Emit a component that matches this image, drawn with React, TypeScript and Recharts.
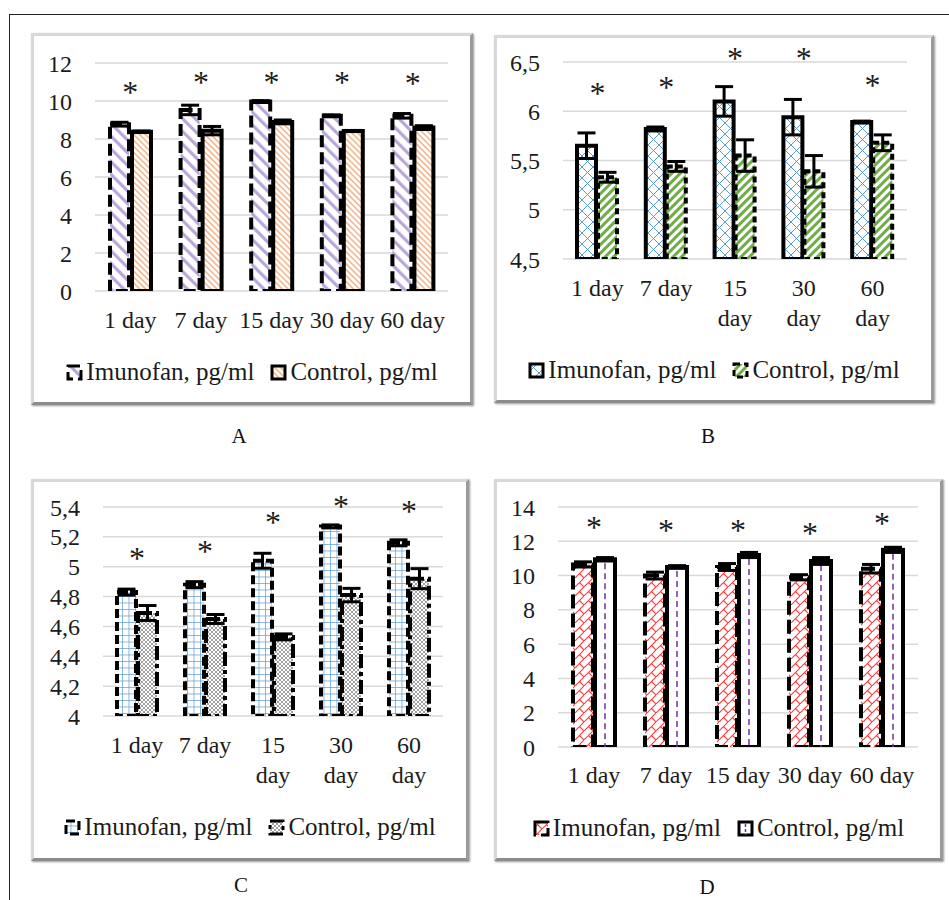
import { BarChart, Bar, XAxis, YAxis, CartesianGrid, ErrorBar, ReferenceDot } from 'recharts';

const DAYS = ['1 day', '7 day', '15 day', '30 day', '60 day'];

// panel A
const A_IMUNOFAN = [8.78, 9.53, 9.97, 9.22, 9.22];
const A_IMUNOFAN_ERR = [0.1, 0.25, 0.05, 0.05, 0.12];
const A_CONTROL = [8.38, 8.44, 8.9, 8.42, 8.6];
const A_CONTROL_ERR = [0.04, 0.22, 0.1, 0.03, 0.1];
const A_STARS = [10.75, 11.25, 11.25, 11.25, 11.2];
const A_TICKS = [0, 2, 4, 6, 8, 10, 12];

// panel B
const B_IMUNOFAN = [5.65, 5.82, 6.1, 5.94, 5.89];
const B_IMUNOFAN_ERR = [0.13, 0.02, 0.15, 0.18, 0.01];
const B_CONTROL = [5.33, 5.44, 5.55, 5.39, 5.68];
const B_CONTROL_ERR = [0.05, 0.05, 0.16, 0.16, 0.08];
const B_STARS = [6.24, 6.3, 6.59, 6.59, 6.32];
const B_TICKS = [4.5, 5, 5.5, 6, 6.5];

// panel C
const C_IMUNOFAN = [4.83, 4.88, 5.04, 5.27, 5.16];
const C_IMUNOFAN_ERR = [0.02, 0.02, 0.05, 0.01, 0.02];
const C_CONTROL = [4.69, 4.65, 4.53, 4.81, 4.92];
const C_CONTROL_ERR = [0.05, 0.03, 0.02, 0.045, 0.067];
const C_STARS = [5.09, 5.14, 5.33, 5.44, 5.41];
const C_TICKS = [4, 4.2, 4.4, 4.6, 4.8, 5, 5.2, 5.4];

// panel D
const D_IMUNOFAN = [10.65, 10.0, 10.5, 9.9, 10.4];
const D_IMUNOFAN_ERR = [0.15, 0.2, 0.2, 0.15, 0.25];
const D_CONTROL = [10.95, 10.5, 11.2, 10.85, 11.5];
const D_CONTROL_ERR = [0.1, 0.08, 0.15, 0.2, 0.15];
const D_STARS = [13.15, 12.95, 12.95, 12.8, 13.35];
const D_TICKS = [0, 2, 4, 6, 8, 10, 12, 14];

const FONT = '"Liberation Serif", "Times New Roman", serif';
const INK = '#1b1b1b';
const EDGE = 4;

function makeRows(im: number[], imErr: number[], ct: number[], ctErr: number[]) {
  return DAYS.map((day, i) => ({
    day,
    imunofan: im[i],
    imunofanErr: imErr[i],
    control: ct[i],
    controlErr: ctErr[i],
  }));
}

const fmt = (v: number) => String(v).replace('.', ',');

function DayTick({ x, y, payload, wrap, dy }: any) {
  const label: string = payload.value;
  const lines = wrap && label.length > 5 ? label.split(' ') : [label];
  return (
    <text x={x} y={y + dy} textAnchor="middle" fontFamily={FONT} fontSize={24} fill={INK}>
      {lines.map((l, i) => (
        <tspan key={i} x={x} dy={i ? 30 : 0}>
          {l}
        </tspan>
      ))}
    </text>
  );
}

const Star = (p: any) => (
  <text x={p.cx} y={p.cy + 16} textAnchor="middle" fontFamily={FONT} fontSize={32} fill={INK}>
    *
  </text>
);

// white bar with a dashed purple line down the middle (control, panel D)
const CenterDashBar = (p: any) => (
  <g>
    <rect x={p.x} y={p.y} width={p.width} height={p.height} fill="#fff" stroke="#000" strokeWidth={EDGE} />
    <line
      x1={p.x + p.width / 2}
      x2={p.x + p.width / 2}
      y1={p.y + 4}
      y2={p.y + p.height}
      stroke="#7030a0"
      strokeWidth={1.5}
      strokeDasharray="6 4"
    />
  </g>
);

type Look = { fill: string; dash?: string; shape?: any };

function Swatch({ look }: { look: Look }) {
  return (
    <svg width={17} height={17} style={{ marginRight: 3 }}>
      <rect x={2} y={2} width={13} height={13} fill={look.fill} stroke="#000" strokeWidth={3} strokeDasharray={look.dash} />
      {look.shape && <line x1={8.5} x2={8.5} y1={4} y2={15} stroke="#7030a0" strokeWidth={1.5} strokeDasharray="3 2" />}
    </svg>
  );
}

function Panel(props: any) {
  const { box, yWidth, top, right, bottom, domain, ticks, rows, stars, im, ct, barSize, barGap, wrap, tickDy, legendY, letter, letterPos } = props;
  const [left, topPx, width, height] = box;
  return (
    <>
      <div
        style={{
          position: 'absolute',
          left,
          top: topPx,
          width,
          height,
          boxSizing: 'border-box',
          border: '3px solid #d8d8d8',
          borderRightColor: '#9a9a9a',
          borderBottomColor: '#8c8c8c',
          boxShadow: '1px 1px 2px #999',
          background: '#fff',
        }}
      />
      <div style={{ position: 'absolute', left, top: topPx }}>
        <BarChart width={width} height={height} data={rows} margin={{ top, right, bottom, left: 0 }} barSize={barSize} barGap={barGap}>
          <CartesianGrid vertical={false} stroke="#d9d9d9" strokeWidth={1.5} />
          <XAxis
            dataKey="day"
            axisLine={false}
            tickLine={false}
            tickSize={0}
            tickMargin={0}
            interval={0}
            height={40}
            tick={(p: any) => <DayTick {...p} wrap={wrap} dy={tickDy} />}
          />
          <YAxis
            type="number"
            domain={domain}
            ticks={ticks}
            interval={0}
            allowDataOverflow
            width={yWidth}
            axisLine={false}
            tickLine={false}
            tickSize={0}
            tickMargin={23}
            tickFormatter={fmt}
            tick={{ fontFamily: FONT, fontSize: 24, fill: INK }}
          />
          <Bar dataKey="imunofan" fill={im.fill} stroke="#000" strokeWidth={EDGE} strokeDasharray={im.dash} isAnimationActive={false}>
            <ErrorBar dataKey="imunofanErr" width={9} stroke="#000" strokeWidth={3} isAnimationActive={false} />
          </Bar>
          <Bar
            dataKey="control"
            fill={ct.fill}
            stroke="#000"
            strokeWidth={EDGE}
            strokeDasharray={ct.dash}
            shape={ct.shape}
            isAnimationActive={false}
          >
            <ErrorBar dataKey="controlErr" width={9} stroke="#000" strokeWidth={3} isAnimationActive={false} />
          </Bar>
          {DAYS.map((d, i) => (
            <ReferenceDot key={d} x={d} y={stars[i]} r={0} ifOverflow="visible" shape={Star} />
          ))}
        </BarChart>
      </div>
      <div
        style={{
          position: 'absolute',
          left,
          top: topPx + legendY - 14,
          width,
          display: 'flex',
          justifyContent: 'center',
          alignItems: 'center',
          gap: 16,
          fontFamily: FONT,
          fontSize: 25,
          lineHeight: '28px',
          color: INK,
          whiteSpace: 'nowrap',
        }}
      >
        <span style={{ display: 'flex', alignItems: 'center' }}>
          <Swatch look={im} />
          Imunofan, pg/ml
        </span>
        <span style={{ display: 'flex', alignItems: 'center' }}>
          <Swatch look={ct} />
          Control, pg/ml
        </span>
      </div>
      <div
        style={{
          position: 'absolute',
          left: letterPos[0] - 20,
          top: letterPos[1] - 12,
          width: 40,
          textAlign: 'center',
          fontFamily: FONT,
          fontSize: 21,
          lineHeight: '24px',
          color: '#111',
        }}
      >
        {letter}
      </div>
    </>
  );
}

export default function App() {
  return (
    <div style={{ position: 'absolute', left: 0, top: 0, width: 949, height: 900, overflow: 'hidden', background: '#fff' }}>
      <svg width={0} height={0} style={{ position: 'absolute' }}>
        <defs>
          <pattern id="pA1" patternUnits="userSpaceOnUse" width={9} height={9} patternTransform="rotate(-45)">
            <rect width={9} height={9} fill="#fff" />
            <rect width={3.2} height={9} fill="#b9a7da" />
          </pattern>
          <pattern id="pA2" patternUnits="userSpaceOnUse" width={4.2} height={4.2} patternTransform="rotate(-45)">
            <rect width={4.2} height={4.2} fill="#fff" />
            <rect width={1.6} height={4.2} fill="#f5b88e" />
          </pattern>
          <pattern id="pB1" patternUnits="userSpaceOnUse" width={11} height={11}>
            <rect width={11} height={11} fill="#fff" />
            <path d="M0,0 L11,11 M11,0 L0,11" stroke="#5b9bd5" strokeWidth={1} />
          </pattern>
          <pattern id="pB2" patternUnits="userSpaceOnUse" width={6} height={6} patternTransform="rotate(45)">
            <rect width={6} height={6} fill="#fff" />
            <rect width={3} height={6} fill="#70ad47" />
          </pattern>
          <pattern id="pC1" patternUnits="userSpaceOnUse" width={6.5} height={6.5}>
            <rect width={6.5} height={6.5} fill="#fff" />
            <path d="M0,0 H6.5 M0,0 V6.5" stroke="#5b9bd5" strokeWidth={1.4} />
          </pattern>
          <pattern id="pC2" patternUnits="userSpaceOnUse" width={4} height={4}>
            <rect width={4} height={4} fill="#fff" />
            <rect width={2} height={2} fill="#a0a0a0" />
            <rect x={2} y={2} width={2} height={2} fill="#a0a0a0" />
          </pattern>
          <pattern id="pD1" patternUnits="userSpaceOnUse" width={9} height={9}>
            <rect width={9} height={9} fill="#fff" />
            <path d="M0,9 L9,0 M4.5,4.5 L9,9" stroke="#ff3b3b" strokeWidth={1.1} />
          </pattern>
        </defs>
      </svg>

      <div style={{ position: 'absolute', left: 9, top: 14, width: 960, height: 900, borderLeft: '1.5px solid #222', borderTop: '1.5px solid #222' }} />

      <Panel
        box={[31, 33, 442, 372]}
        yWidth={64}
        top={30}
        right={25}
        bottom={74}
        domain={[0, 12]}
        ticks={A_TICKS}
        rows={makeRows(A_IMUNOFAN, A_IMUNOFAN_ERR, A_CONTROL, A_CONTROL_ERR)}
        stars={A_STARS}
        im={{ fill: 'url(#pA1)', dash: '12 5' }}
        ct={{ fill: 'url(#pA2)' }}
        barSize={19}
        barGap={3}
        wrap={false}
        tickDy={37}
        legendY={339}
        letter="A"
        letterPos={[239, 436]}
      />
      <Panel
        box={[494, 35, 440, 368]}
        yWidth={69}
        top={27}
        right={27}
        bottom={104}
        domain={[4.5, 6.5]}
        ticks={B_TICKS}
        rows={makeRows(B_IMUNOFAN, B_IMUNOFAN_ERR, B_CONTROL, B_CONTROL_ERR)}
        stars={B_STARS}
        im={{ fill: 'url(#pB1)' }}
        ct={{ fill: 'url(#pB2)', dash: '6 4' }}
        barSize={19}
        barGap={2}
        wrap
        tickDy={37}
        legendY={335}
        letter="B"
        letterPos={[708, 436]}
      />
      <Panel
        box={[31, 479, 438, 382]}
        yWidth={72}
        top={28}
        right={26}
        bottom={105}
        domain={[4, 5.4]}
        ticks={C_TICKS}
        rows={makeRows(C_IMUNOFAN, C_IMUNOFAN_ERR, C_CONTROL, C_CONTROL_ERR)}
        stars={C_STARS}
        im={{ fill: 'url(#pC1)', dash: '9 4' }}
        ct={{ fill: 'url(#pC2)', dash: '14 4 4 4' }}
        barSize={19}
        barGap={2}
        wrap
        tickDy={37}
        legendY={348}
        letter="C"
        letterPos={[241, 885]}
      />
      <Panel
        box={[494, 479, 449, 382]}
        yWidth={64}
        top={28}
        right={25}
        bottom={74}
        domain={[0, 14]}
        ticks={D_TICKS}
        rows={makeRows(D_IMUNOFAN, D_IMUNOFAN_ERR, D_CONTROL, D_CONTROL_ERR)}
        stars={D_STARS}
        im={{ fill: 'url(#pD1)', dash: '14 5' }}
        ct={{ fill: '#fff', shape: CenterDashBar }}
        barSize={20}
        barGap={2}
        wrap={false}
        tickDy={36}
        legendY={349}
        letter="D"
        letterPos={[707, 887]}
      />
    </div>
  );
}
